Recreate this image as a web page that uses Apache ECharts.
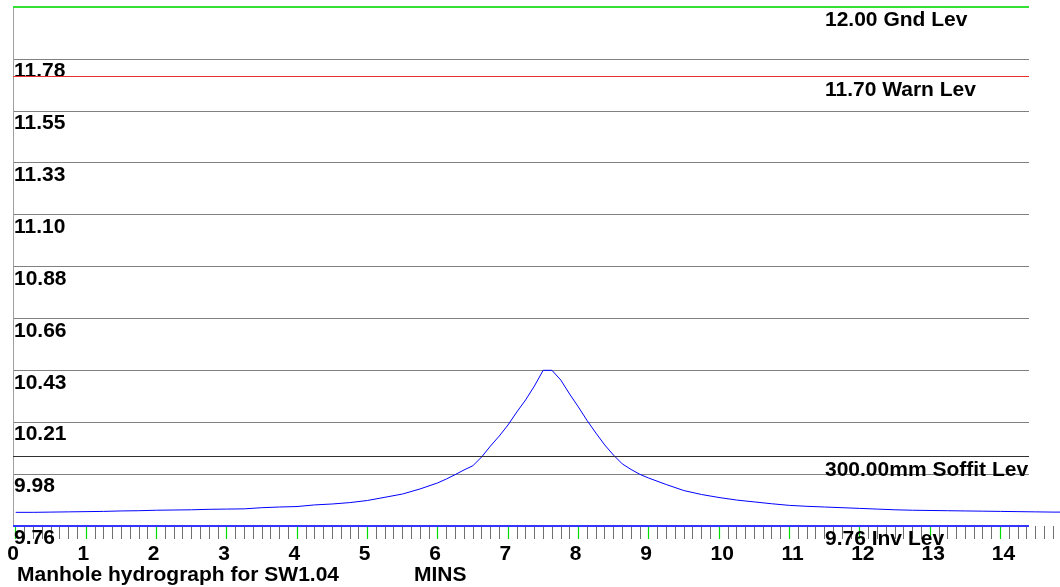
<!DOCTYPE html>
<html><head><meta charset="utf-8">
<script src="https://cdn.jsdelivr.net/npm/echarts@6/dist/echarts.min.js"></script>
<style>html,body{margin:0;padding:0;background:#fff}#c{width:1060px;height:587px}</style>
</head><body><div id="c"></div>
<script>
// ---- data ----
const TITLE = 'Manhole hydrograph for SW1.04';
const X_NAME = 'MINS';
const INV_LEVEL = 9.76;
const GND_LEVEL = 12.00;
const WARN_LEVEL = 11.70;
const SOFFIT_MM = 300;
const Y_STEP_MM = 224;
const X_MAX = 15;
const LEVEL_LABELS = ['12.00 Gnd Lev', '11.70 Warn Lev', '300.00mm Soffit Lev', '9.76 Inv Lev'];

const MINS = [0,0.25,0.5,0.75,1,1.25,1.5,1.75,2,2.25,2.5,2.75,3,3.25,3.5,3.75,4,4.25,4.5,4.75,
  5,5.25,5.5,5.75,6,6.125,6.25,6.375,6.5,6.625,6.75,6.875,7,7.125,7.25,7.375,7.5,7.625,7.75,7.875,
  8,8.125,8.25,8.375,8.5,8.625,8.75,8.875,9,9.25,9.5,9.75,10,10.25,10.5,10.75,11,11.25,11.5,11.75,
  12,12.25,12.5,12.75,13,13.25,13.5,13.75,14,14.25,14.5,14.75,15];
const LEVELS = [9.819,9.819,9.820,9.821,9.822,9.823,9.825,9.826,9.828,9.829,9.830,9.832,9.833,9.834,9.839,9.842,9.844,9.851,9.855,9.861,
  9.870,9.884,9.898,9.920,9.946,9.963,9.982,10.002,10.020,10.058,10.105,10.148,10.196,10.252,10.304,10.364,10.432,10.432,10.390,10.330,
  10.274,10.215,10.161,10.110,10.066,10.028,10.004,9.983,9.967,9.939,9.913,9.896,9.883,9.872,9.864,9.856,9.849,9.845,9.842,9.839,
  9.836,9.833,9.830,9.828,9.827,9.826,9.825,9.824,9.823,9.822,9.821,9.820,9.820];

// ---- chart ----
const FONT = {fontFamily:'"Liberation Sans", Arial, sans-serif', fontWeight:'bold', fontSize:21, color:'#000'};
const toMM = v => Math.round((v - INV_LEVEL) * 1000);
const fmtLev = mm => (INV_LEVEL + mm / 1000).toFixed(2);
const Y_MAX = toMM(GND_LEVEL);

function lvlLine(val, text, color, w) {
  return {
    yAxis: val,
    lineStyle: {color: color, width: w, type: 'solid', opacity: 1},
    label: Object.assign({show: true, position: 'insideStartBottom', distance: [812, 3], formatter: text}, FONT)
  };
}

const chart = echarts.init(document.getElementById('c'), null, {renderer: 'canvas'});
chart.setOption({
  animation: false,
  backgroundColor: '#fff',
  title: [
    {text: TITLE, left: 17, top: 565, padding: 0, textStyle: FONT},
    {text: X_NAME, left: 414, top: 565, padding: 0, textStyle: FONT}
  ],
  grid: [
    {left: 13, right: 31, top: 7, bottom: 61, outerBoundsMode: 'none', containLabel: false},
    {left: 15.7, right: -10.65, top: 7, bottom: 61, outerBoundsMode: 'none', containLabel: false}
  ],
  xAxis: [
    {gridIndex: 0, type: 'value', min: 0, max: 1, show: false},
    {gridIndex: 1, type: 'value', min: 0, max: X_MAX, interval: 1,
      axisLine: {show: false}, splitLine: {show: false},
      axisTick: {show: true, length: 13, lineStyle: {color: '#00dd00', width: 1.2}},
      minorTick: {show: true, splitNumber: 8, length: 13, lineStyle: {color: '#707070', width: 1}},
      axisLabel: {margin: 18, showMaxLabel: false,
        formatter: v => (String(v).length > 1 ? '{d|' + v + '}' : '{s|' + v + '}'),
        rich: {
          s: Object.assign({padding: [0, 5.3, 0, 0]}, FONT),
          d: Object.assign({padding: [0, 0, 0, 6.4]}, FONT)
        }
      }
    }
  ],
  yAxis: [
    {gridIndex: 0, type: 'value', min: 0, max: Y_MAX, interval: Y_STEP_MM,
      axisLine: {show: true, lineStyle: {color: '#a0a0a0', width: 1}},
      axisTick: {show: false},
      splitLine: {show: true, showMinLine: false, showMaxLine: false, lineStyle: {color: '#808080', width: 1}},
      axisLabel: Object.assign({inside: true, verticalAlign: 'top', align: 'left', margin: 1, padding: [2, 0, 0, 0],
        showMaxLabel: false, formatter: fmtLev}, FONT)
    },
    {gridIndex: 1, type: 'value', min: 0, max: Y_MAX, show: false}
  ],
  series: [
    {type: 'line', xAxisIndex: 0, yAxisIndex: 0, data: [], silent: true, clip: false, z: 5,
      markLine: {silent: true, symbol: 'none', animation: false,
        data: [
          lvlLine(toMM(GND_LEVEL), LEVEL_LABELS[0], '#33e033', 2),
          lvlLine(toMM(WARN_LEVEL), LEVEL_LABELS[1], '#e83030', 1),
          lvlLine(SOFFIT_MM, LEVEL_LABELS[2], '#303030', 1),
          lvlLine(0, LEVEL_LABELS[3], '#3535ff', 2)
        ]}
    },
    {type: 'line', xAxisIndex: 1, yAxisIndex: 1, showSymbol: false, silent: true,
      data: MINS.map((t, i) => [t, toMM(LEVELS[i])]),
      lineStyle: {color: '#0000ff', width: 1}
    }
  ]
});
</script></body></html>
